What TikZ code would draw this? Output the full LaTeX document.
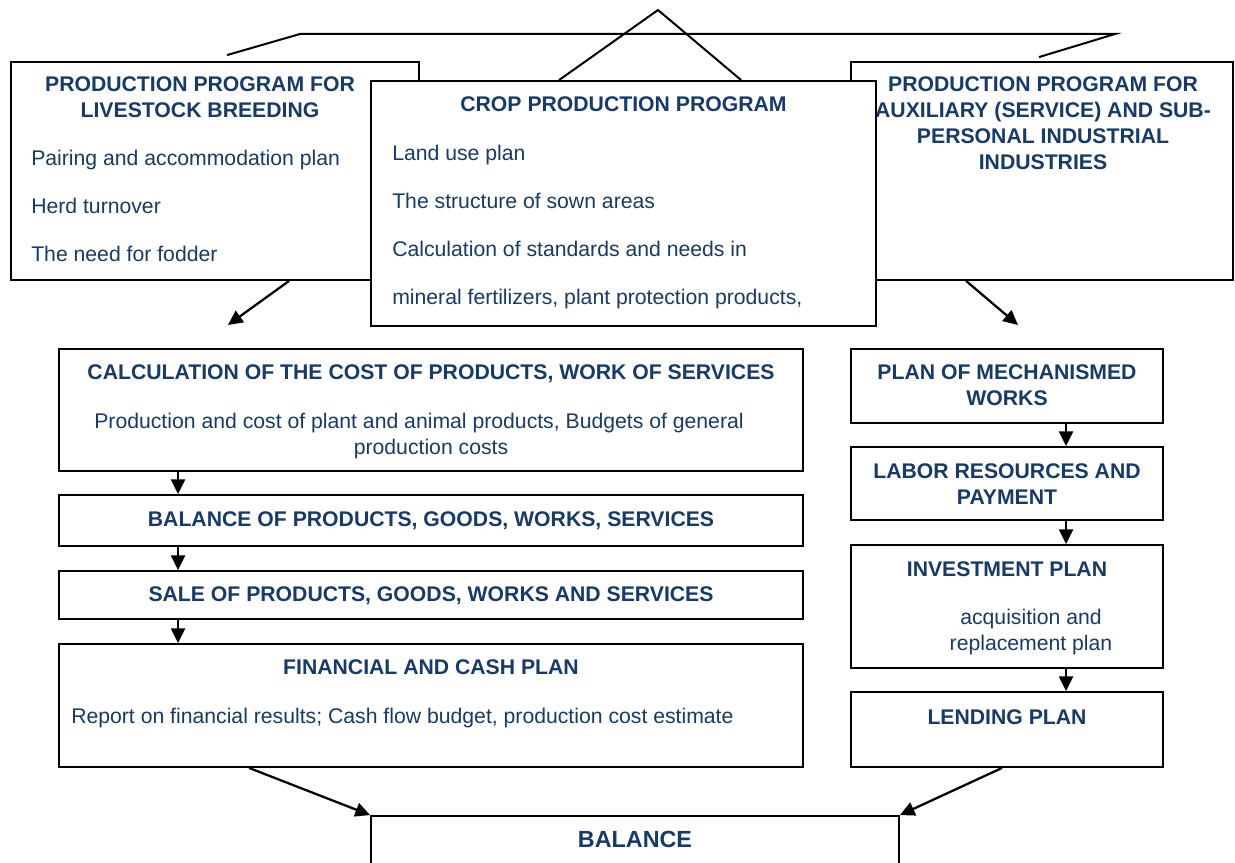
\documentclass[tikz,border=0pt]{standalone}
\usepackage{fontspec}
\setmainfont{Liberation Sans}
\usetikzlibrary{arrows.meta,fit}
\definecolor{plannavy}{HTML}{163A69}

\begin{document}
\begin{tikzpicture}[
    x=0.75pt, y=-0.75pt,
    planbox/.style={draw=black, fill=white, line width=1.4pt, inner sep=0pt},
    headlbl/.style={font=\fontsize{15.9}{19}\selectfont\bfseries, text=plannavy, anchor=base, inner sep=0pt},
    itemlbl/.style={font=\fontsize{15.9}{19}\selectfont, text=plannavy, anchor=base west, inner sep=0pt},
    bodylbl/.style={itemlbl, anchor=base},
    flow/.style={draw=black, line width=1.7pt, -{Triangle[length=11pt,width=10.5pt]}},
    link/.style={draw=black, line width=1.5pt}
  ]
  \useasboundingbox (0,0) rectangle (1235,863);

  % the three production programmes
  \node[planbox, fit={(11,62) (419,280)}] (live) {};
  \node[planbox, fit={(851,62) (1233,280)}] (aux) {};
  \foreach \txt/\yy [count=\i] in {PRODUCTION PROGRAM FOR/92, LIVESTOCK BREEDING/118}
    \node[headlbl] (livehead\i) at (200,\yy) {\txt};
  \foreach \txt/\yy [count=\i] in {Pairing and accommodation plan/166, Herd turnover/214, The need for fodder/261}
    \node[itemlbl] (liveitem\i) at (31,\yy) {\txt};
  \foreach \txt/\yy [count=\i] in {PRODUCTION PROGRAM FOR/92, AUXILIARY (SERVICE) AND SUB-/118, PERSONAL INDUSTRIAL/144, INDUSTRIES/170}
    \node[headlbl] (auxhead\i) at (1043,\yy) {\txt};
  \node[planbox, fit={(371,81) (876,326)}] (crop) {};
  \node[headlbl] (crophead) at (623.5,112) {CROP PRODUCTION PROGRAM};
  \foreach \txt/\yy [count=\i] in {Land use plan/161, The structure of sown areas/209, Calculation of standards and needs in/256, {mineral fertilizers, plant protection products,}/304}
    \node[itemlbl] (cropitem\i) at (392,\yy) {\txt};

  % left column
  \node[planbox, fit={(59,349) (803,471)}] (cost) {};
  \node[headlbl] (costhead) at (431,379) {CALCULATION OF THE COST OF PRODUCTS, WORK OF SERVICES};
  \node[bodylbl] (costbody1) at (419,428) {Production and cost of plant and animal products, Budgets of general};
  \node[bodylbl] (costbody2) at (431,454) {production costs};
  \node[planbox, fit={(59,495) (803,546)}] (balprod) {};
  \node[headlbl] (balprodhead) at (431,526) {BALANCE OF PRODUCTS, GOODS, WORKS, SERVICES};
  \node[planbox, fit={(59,571) (803,619)}] (sale) {};
  \node[headlbl] (salehead) at (431,601) {SALE OF PRODUCTS, GOODS, WORKS AND SERVICES};
  \node[planbox, fit={(59,644) (803,767)}] (fin) {};
  \node[headlbl] (finhead) at (431,674) {FINANCIAL AND CASH PLAN};
  \node[itemlbl] (finbody) at (71,723) {Report on financial results; Cash flow budget, production cost estimate};

  % right column
  \node[planbox, fit={(851,349) (1163,423)}] (mech) {};
  \foreach \txt/\yy [count=\i] in {PLAN OF MECHANISMED/379, WORKS/405}
    \node[headlbl] (mechhead\i) at (1007,\yy) {\txt};
  \node[planbox, fit={(851,447) (1163,520)}] (labor) {};
  \foreach \txt/\yy [count=\i] in {LABOR RESOURCES AND/478, PAYMENT/504}
    \node[headlbl] (laborhead\i) at (1007,\yy) {\txt};
  \node[planbox, fit={(851,545) (1163,668)}] (invest) {};
  \node[headlbl] (investhead) at (1007,576) {INVESTMENT PLAN};
  \foreach \txt/\yy [count=\i] in {acquisition and/624, replacement plan/650}
    \node[bodylbl] (investbody\i) at (1031,\yy) {\txt};
  \node[planbox, fit={(851,692) (1163,767)}] (lend) {};
  \node[headlbl] (lendhead) at (1007,724) {LENDING PLAN};

  \node[planbox, fit={(371,816) (899,880)}] (balance) {};
  \node[headlbl, font=\fontsize{17.5}{21}\selectfont\bfseries] (balancehead) at (635,847) {BALANCE};

  % links over the top
  \coordinate (lbend) at (300,34);
  \coordinate (rbend) at (1115,34);
  \coordinate (apex) at (658,10);
  \draw[link] ([shift={(162.75pt,4.5pt)}]live.north west) -- (lbend) -- (rbend)
    -- ([shift={(141.75pt,3pt)}]aux.north west);
  \draw[link] ([xshift=141.75pt]crop.north west) -- (apex) -- ([xshift=278.25pt]crop.north west);

  % arrows
  \coordinate (costin) at (228,325);
  \coordinate (mechin) at (1018,325);
  \draw[flow] ([xshift=209.25pt]live.south west) -- (costin);
  \draw[flow] ([xshift=87pt]aux.south west) -- (mechin);
  \draw[flow] ([xshift=90pt]cost.south west) -- ([xshift=90pt]balprod.north west);
  \draw[flow] ([xshift=90pt]balprod.south west) -- ([xshift=90pt]sale.north west);
  \draw[flow] ([xshift=90pt]sale.south west) -- ([xshift=90pt]fin.north west);
  \draw[flow] ([xshift=162pt]mech.south west) -- ([xshift=162pt]labor.north west);
  \draw[flow] ([xshift=162pt]labor.south west) -- ([xshift=162pt]invest.north west);
  \draw[flow] ([xshift=162pt]invest.south west) -- ([xshift=162pt]lend.north west);
  \draw[flow] ([xshift=143.25pt]fin.south west) -- (balance.north west);
  \draw[flow] ([xshift=114pt]lend.south west) -- (balance.north east);
\end{tikzpicture}
\end{document}
